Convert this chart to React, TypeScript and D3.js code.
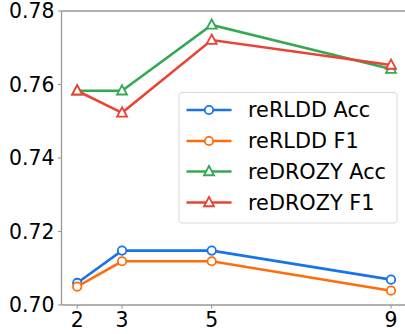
import React from "react";
import * as d3 from "d3";

const xValues = [2, 3, 5, 9];
const yTicks = [0.70, 0.72, 0.74, 0.76, 0.78];
const seriesNames = ["reRLDD Acc", "reRLDD F1", "reDROZY Acc", "reDROZY F1"];
const rerlddAcc = [0.706, 0.7148, 0.7148, 0.7069];
const rerlddF1 = [0.705, 0.7119, 0.7119, 0.7039];
const redrozyAcc = [0.7583, 0.7583, 0.7762, 0.7642];
const redrozyF1 = [0.7583, 0.7523, 0.7721, 0.7653];
const colors = ["#1a73e8", "#ff6d0a", "#34a853", "#ea4335"];
const markers = ["circle", "circle", "triangle", "triangle"];

const W = 405, H = 334;
const left = 61.5, right = 406.7, top = 11, bottom = 305;

export default function App() {
  const x = d3.scaleLinear().domain([1.65, 9.35]).range([left, right]);
  const y = d3.scaleLinear().domain([0.70, 0.78]).range([bottom, top]);
  const data = [rerlddAcc, rerlddF1, redrozyAcc, redrozyF1];
  const line = d3.line<number>().x((_, i) => x(xValues[i])).y((d) => y(d));
  const font = "DejaVu Sans, sans-serif";
  const tri = (cx: number, cy: number, r: number) =>
    `M${cx},${cy - r * 1.1}L${cx + r},${cy + r * 0.75}L${cx - r},${cy + r * 0.75}Z`;
  const marker = (m: string, cx: number, cy: number, c: string, k: string) =>
    m === "circle" ? (
      <circle key={k} cx={cx} cy={cy} r={4.2} fill="white" stroke={c} strokeWidth={1.8} />
    ) : (
      <path key={k} d={tri(cx, cy, 5)} fill="white" stroke={c} strokeWidth={1.8} />
    );
  const legX = 179, legY = 92.5, legW = 218, legH = 130.5;
  const rowY = [110, 141, 171.5, 202.5];
  return (
    <svg width={W} height={H} style={{ position: "absolute", left: 0, top: 0 }}>
      <rect width={W} height={H} fill="white" />
      {data.map((s, si) => (
        <g key={si}>
          <path d={line(s) || ""} fill="none" stroke={colors[si]} strokeWidth={2.6} />
          {s.map((v, i) => marker(markers[si], x(xValues[i]), y(v), colors[si], `${si}-${i}`))}
        </g>
      ))}
      <line x1={left} x2={left} y1={top} y2={bottom} stroke="#999" strokeWidth={1.3} />
      <line x1={left} x2={W} y1={top} y2={top} stroke="#999" strokeWidth={1.3} />
      <line x1={left} x2={W} y1={bottom} y2={bottom} stroke="#999" strokeWidth={1.3} />
      {yTicks.map((t) => (
        <g key={t}>
          <line x1={left - 3.5} x2={left} y1={y(t)} y2={y(t)} stroke="#999" strokeWidth={1.1} />
          <text x={left - 7} y={y(t)} dy="0.36em" textAnchor="end" fontFamily={font} fontSize={20.4} fill="#000">
            {t.toFixed(2)}
          </text>
        </g>
      ))}
      {xValues.map((t) => (
        <g key={t}>
          <line x1={x(t)} x2={x(t)} y1={bottom} y2={bottom + 3.5} stroke="#999" strokeWidth={1.1} />
          <text x={x(t)} y={bottom + 22} textAnchor="middle" fontFamily={font} fontSize={20.4} fill="#000">
            {t}
          </text>
        </g>
      ))}
      <rect x={legX} y={legY} width={legW} height={legH} rx={3} fill="white" fillOpacity={0.8} stroke="#d9d9d9" strokeWidth={1} />
      {seriesNames.map((n, i) => (
        <g key={n}>
          <line x1={186.5} x2={231.5} y1={rowY[i]} y2={rowY[i]} stroke={colors[i]} strokeWidth={2.6} />
          {marker(markers[i], 209, rowY[i], colors[i], `l${i}`)}
          <text x={248} y={rowY[i]} dy="0.36em" fontFamily={font} fontSize={20.8} fill="#000">
            {n}
          </text>
        </g>
      ))}
    </svg>
  );
}
